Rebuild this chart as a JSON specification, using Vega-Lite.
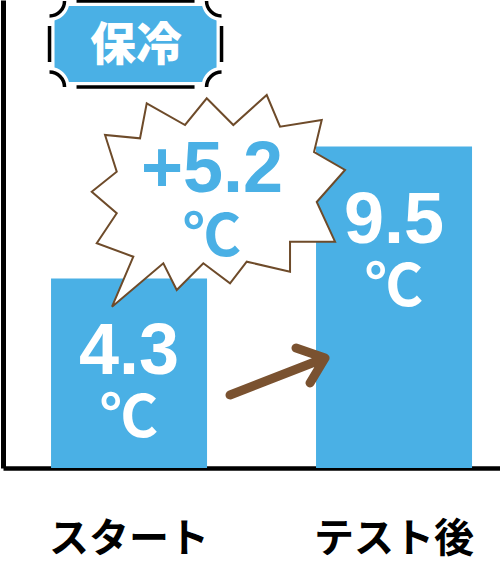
{
  "$schema": "https://vega.github.io/schema/vega-lite/v6.json",
  "width": 497,
  "height": 468,
  "autosize": "none",
  "padding": {"left": 3, "top": 0, "right": 0, "bottom": 107},
  "background": "white",
  "config": {"view": {"stroke": null}},
  "layer": [
    {"data": {"values": [
        {"label": "スタート", "value": 4.3, "unit": "℃"},
        {"label": "テスト後", "value": 9.5, "unit": "℃"}
      ]},
      "encoding": {
        "x": {"field": "label", "type": "nominal", "sort": null,
          "scale": {"paddingInner": 0.4113, "paddingOuter": 0.1434, "align": 0.632},
          "axis": {"title": null, "ticks": false, "labelAngle": 0, "domainColor": "black", "domainWidth": 4.5,
            "labelFont": "Noto Sans CJK JP", "labelFontWeight": "bold", "labelFontSize": 40, "labelColor": "black",
            "labelBaseline": "alphabetic", "labelPadding": 83}},
        "y": {"field": "value", "type": "quantitative",
          "scale": {"type": "pow", "exponent": 0.666, "domain": [0, 16.7], "nice": false, "zero": true},
          "axis": {"title": null, "labels": false, "ticks": false, "grid": false, "domainColor": "black", "domainWidth": 5}}
      },
      "layer": [
        {"mark": {"type": "bar", "color": "#4AB0E5"}},
        {"mark": {"type": "text", "color": "white", "font": "Liberation Sans",
          "fontWeight": "bold", "fontSize": 72, "baseline": "alphabetic", "align": "center", "dy": 96},
          "encoding": {"text": {"field": "value", "type": "quantitative", "format": ".1f"}}},
        {"mark": {"type": "text", "color": "white", "font": "Noto Sans CJK JP", "fontWeight": "bold", "fontSize": 58,
          "baseline": "alphabetic", "align": "center", "dy": 159},
          "encoding": {"text": {"field": "unit"}}}
      ]},
    {"data": {"values": [{"shape": "burst"}]},
      "mark": {"type": "point", "filled": true, "fill": "white", "stroke": "#6E4B2A", "strokeWidth": 2, "opacity": 1,
        "size": 4, "xOffset": 81, "yOffset": 200, "strokeJoin": "miter",
        "shape": "M-63.3,-96.7L-25,-75L-3.3,-101.7L23.3,-75L56.7,-105L70,-73.3L111.7,-80L104,-48L135,-30L106.7,2L125,41.7L80,41.7L80,71.7L36.7,61.7L20,83.3L-6.7,63.3L-33.3,90L-46.7,63.3L-98,106.7L-76.7,56.7L-113.3,43.3L-93.3,13.3L-118.3,-8.3L-93.3,-28.3L-105,-65L-70,-61.7Z"},
      "encoding": {"x": {"datum": "スタート"}, "y": {"datum": 16.7}}},
    {"data": {"values": [{"diff": "+5.2", "unit": "℃"}]},
      "layer": [
        {"mark": {"type": "text", "color": "#4AB0E5", "font": "Liberation Sans",
          "fontWeight": "bold", "fontSize": 72, "baseline": "alphabetic", "align": "center", "xOffset": 83, "yOffset": 192},
          "encoding": {"x": {"datum": "スタート"}, "y": {"datum": 16.7}, "text": {"field": "diff"}}},
        {"mark": {"type": "text", "color": "#4AB0E5", "font": "Noto Sans CJK JP", "fontWeight": "bold", "fontSize": 58,
          "baseline": "alphabetic", "align": "center", "xOffset": 83, "yOffset": 256},
          "encoding": {"x": {"datum": "スタート"}, "y": {"datum": 16.7}, "text": {"field": "unit"}}}
      ]},
    {"data": {"values": [{"shape": "arrow"}]},
      "mark": {"type": "point", "filled": false, "stroke": "#7A5230", "strokeWidth": 9, "strokeCap": "round", "strokeJoin": "round",
        "opacity": 1, "size": 4, "xOffset": -118, "yOffset": 376,
        "shape": "M-46,19L49,-18M20,-28L49,-18L34,7"},
      "encoding": {"x": {"datum": "テスト後"}, "y": {"datum": 16.7}}},
    {"data": {"values": [{"title": "保冷"}]},
      "layer": [
        {"mark": {"type": "point", "filled": true, "fill": "#4AB0E5", "strokeWidth": 0, "opacity": 1, "size": 4,
          "xOffset": 6.5, "yOffset": 44,
          "shape": "M-66.6,-38L66.6,-38A20,20 0 0 0 81,-23.6L81,23.6A20,20 0 0 0 66.6,38L-66.6,38A20,20 0 0 0 -81,23.6L-81,-23.6A20,20 0 0 0 -66.6,-38Z"},
          "encoding": {"x": {"datum": "スタート"}, "y": {"datum": 16.7}}},
        {"mark": {"type": "point", "filled": false, "stroke": "black", "strokeWidth": 3.5, "strokeCap": "butt", "opacity": 1, "size": 4,
          "xOffset": 6.5, "yOffset": 44,
          "shape": "M-86,-28A15,15 0 0 0 -71,-43M-59,-43L59,-43M71,-43A15,15 0 0 0 86,-28M86,-18L86,18M86,28A15,15 0 0 0 71,43M59,43L-59,43M-71,43A15,15 0 0 0 -86,28M-86,18L-86,-18"},
          "encoding": {"x": {"datum": "スタート"}, "y": {"datum": 16.7}}},
        {"mark": {"type": "text", "color": "white", "font": "Noto Sans CJK JP", "fontWeight": 900, "fontSize": 46,
          "baseline": "middle", "align": "center", "xOffset": 7, "yOffset": 46},
          "encoding": {"x": {"datum": "スタート"}, "y": {"datum": 16.7}, "text": {"field": "title"}}}
      ]}
  ]
}
